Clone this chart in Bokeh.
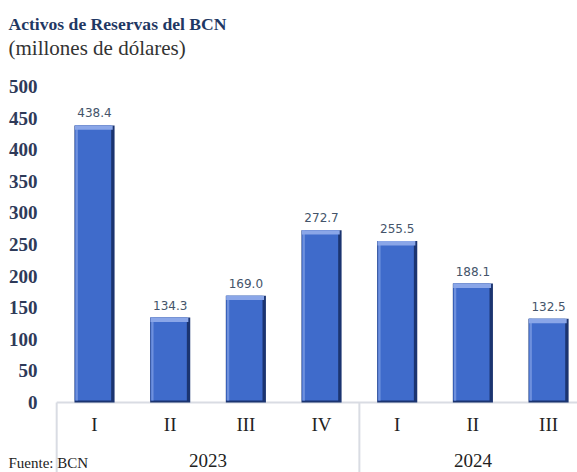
from bokeh.plotting import figure
from bokeh.models import FactorRange, Range1d, Label, ColumnDataSource, LabelSet
from bokeh.transform import dodge
from bokeh.embed import file_html
from bokeh.resources import INLINE
from bokeh.core.properties import value

# ---- data ----
years = ["2023", "2023", "2023", "2023", "2024", "2024", "2024"]
quarters = ["I", "II", "III", "IV", "I", "II", "III"]
reserves = [438.4, 134.3, 169.0, 272.7, 255.5, 188.1, 132.5]
year_groups = ["2023", "2024"]
y_ticks = [0, 50, 100, 150, 200, 250, 300, 350, 400, 450, 500]
title = "Activos de Reservas del BCN"
subtitle = "(millones de dólares)"
source_note = "Fuente: BCN"

# ---- layout constants (pixels) ----
W, H = 577, 472
PLOT_TOP, PLOT_BOTTOM = 86, 402          # pixel rows of y=500 and y=0
Y_MAX = 500
px_per_unit = (PLOT_BOTTOM - PLOT_TOP) / Y_MAX
y_end = Y_MAX + PLOT_TOP / px_per_unit
y_start = -(H - PLOT_BOTTOM) / px_per_unit
SHIFT = 0.43                              # horizontal offset of the category slots

factors = list(zip(years, quarters))
src = ColumnDataSource(dict(
    x=factors,
    q=quarters,
    top=reserves,
    lbl=[f"{v:.1f}" for v in reserves],
    bevel=[v - 7 for v in reserves],
    base=[3 for v in reserves],
    zero=[0 for v in reserves],
))
ysrc = ColumnDataSource(dict(x=year_groups, y=[0 for g in year_groups]))
tsrc = ColumnDataSource(dict(y=y_ticks, t=[str(t) for t in y_ticks]))
sep_src = ColumnDataSource(dict(x=[factors[0], factors[4]], y0=[0, 0], y1=[y_start, y_start]))
axis_src = ColumnDataSource(dict(x0=[factors[0]], x1=[factors[-1]], y=[0]))

xr = FactorRange(*factors, range_padding=0.3125, range_padding_units="absolute",
                 group_padding=0, factor_padding=0)
p = figure(
    x_range=xr, y_range=Range1d(y_start, y_end),
    width=W, height=H,
    output_backend="svg", toolbar_location=None,
    x_axis_location=None, y_axis_location=None,
    min_border=0, min_border_left=0, min_border_right=0, min_border_top=0, min_border_bottom=0,
)
p.outline_line_color = None
p.xgrid.grid_line_color = None
p.ygrid.grid_line_color = None
p.background_fill_color = "white"

# category axis line and group separators
p.segment(x0=dodge("x0", SHIFT - 0.5, range=xr), x1=dodge("x1", SHIFT + 0.7, range=xr),
          y0="y", y1="y", source=axis_src, line_color="#D9DCE3", line_width=2)
p.segment(x0=dodge("x", SHIFT - 0.5, range=xr), x1=dodge("x", SHIFT - 0.5, range=xr),
          y0="y0", y1="y1", source=sep_src, line_color="#D9DCE3", line_width=2)

# bars: dark shell, body, left highlight, light top bevel
p.vbar(x=dodge("x", SHIFT, range=xr), top="top", bottom="zero", width=0.53, source=src,
       fill_color="#1B3470", line_color=None)
p.vbar(x=dodge("x", SHIFT - 0.02, range=xr), top="top", bottom="base", width=0.48, source=src,
       fill_color="#3F6BCB", line_color=None)
p.vbar(x=dodge("x", SHIFT - 0.235, range=xr), top="top", bottom="base", width=0.03, source=src,
       fill_color="#6E90DD", line_color=None)
p.vbar(x=dodge("x", SHIFT - 0.01, range=xr), top="top", bottom="bevel", width=0.50, source=src,
       fill_color="#8AA6E8", line_color=None)

# value labels
p.add_layout(LabelSet(x=dodge("x", SHIFT, range=xr), y="top", text="lbl", source=src, y_offset=8,
                      text_align="center", text_baseline="bottom",
                      text_font=value("DejaVu Sans"), text_font_size=value("12px"),
                      text_color="#44546A"))
# quarter labels
p.add_layout(LabelSet(x=dodge("x", SHIFT, range=xr), y="zero", text="q", source=src, y_offset=-28,
                      text_align="center", text_baseline="alphabetic",
                      text_font=value("Liberation Serif"), text_font_size=value("19px"),
                      text_color="#222222"))
# year labels
p.add_layout(LabelSet(x=dodge("x", SHIFT, range=xr), y="y", text="x", source=ysrc, y_offset=-64,
                      text_align="center", text_baseline="alphabetic",
                      text_font=value("Liberation Serif"), text_font_size=value("19px"),
                      text_color="#222222"))
# y tick labels
p.add_layout(LabelSet(x=37, x_units="screen", y="y", text="t", source=tsrc,
                      text_align="right", text_baseline="middle",
                      text_font=value("Liberation Serif"), text_font_style=value("bold"),
                      text_font_size=value("19px"), text_color="#2E3A59"))

# titles and source note
p.add_layout(Label(x=8, y=H - 23, x_units="screen", y_units="screen",
                   text=title, text_font="Liberation Serif",
                   text_font_style="bold", text_font_size="17.6px", text_color="#1F3864",
                   text_baseline="alphabetic"))
p.add_layout(Label(x=8, y=H - 47, x_units="screen", y_units="screen",
                   text=subtitle, text_font="Liberation Serif",
                   text_font_size="21px", text_color="#333333",
                   text_baseline="alphabetic"))
p.add_layout(Label(x=8, y=H - 462, x_units="screen", y_units="screen",
                   text=source_note, text_font="Liberation Serif",
                   text_font_size="15px", text_color="#222222",
                   text_baseline="alphabetic"))

open("out.html", "w").write(file_html(p, INLINE))
